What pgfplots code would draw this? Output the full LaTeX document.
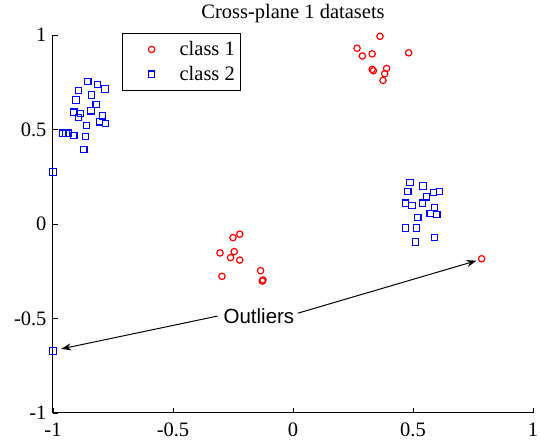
\documentclass[border=0pt]{standalone}
\usepackage{fontspec}
\setmainfont{Liberation Serif}
\newfontfamily\sansf{Liberation Sans}
\usepackage{pgfplots}
\pgfplotsset{compat=1.18}
\usetikzlibrary{arrows.meta}
\newcommand\fs{\fontsize{20.5bp}{24bp}\selectfont}
\begin{document}
\begin{tikzpicture}
\path[use as bounding box] (-53bp,-27bp) rectangle (487bp,413bp);
\begin{axis}[
  at={(0,0)}, anchor=south west,
  scale only axis, width=480bp, height=378bp,
  xmin=-1, xmax=1, ymin=-1, ymax=1,
  axis x line=bottom, axis y line=left,
  axis line style={-, line width=1bp, black},
  tick align=inside, major tick length=5bp,
  tick style={line width=0.8bp, black},
  xtick={-1,-0.5,0,0.5,1}, xticklabels={{-1},{-0.5},{0},{0.5},{1}},
  ytick={-1,-0.5,0,0.5,1}, yticklabels={{-1},{-0.5},{0},{0.5},{1}},
  ticklabel style={font=\fs},
  xticklabel style={yshift=-6bp},
  yticklabel style={xshift=-3bp},
  title={Cross-plane 1 datasets},
  title style={font=\fs, yshift=3bp},
  clip=false,
  legend style={font=\fs, at={(0.144,1.005)}, anchor=north west,
    draw=black, line width=1bp, inner xsep=4bp, inner ysep=6bp,
    row sep=5bp, nodes={inner sep=2bp}},
  legend cell align=left,
  legend image code/.code={\path[draw=none,fill=none] (0bp,-2bp) rectangle (51bp,2bp); \draw[#1] plot coordinates {(25bp,0bp)};},
]
\addplot[only marks, mark=o, color=red, mark options={draw=red, fill=none, line width=1.2bp}, mark size=3.2bp] coordinates {
(0.3625,0.993) (0.267,0.93) (0.289,0.889) (0.33,0.90) (0.482,0.906)
(0.33,0.818) (0.335,0.811) (0.39,0.823) (0.382,0.795) (0.375,0.76)
(-0.222,-0.054) (-0.25,-0.072) (-0.304,-0.153) (-0.245,-0.146) (-0.26,-0.178)
(-0.222,-0.191) (-0.296,-0.277) (-0.135,-0.247) (-0.125,-0.296) (-0.128,-0.302)
(0.786,-0.184)
};
\addlegendentry{class 1}
\addplot[only marks, mark=square, color=blue, mark options={draw=blue, fill=none, line width=1.2bp}, mark size=3.2bp] coordinates {
(-0.855,0.753) (-0.815,0.739) (-0.783,0.714) (-0.893,0.707) (-0.839,0.683)
(-0.904,0.656) (-0.82,0.633) (-0.913,0.592) (-0.885,0.585) (-0.842,0.599)
(-0.893,0.564) (-0.793,0.573) (-0.807,0.541) (-0.782,0.532) (-0.861,0.522)
(-0.958,0.48) (-0.946,0.48) (-0.935,0.48) (-0.913,0.469) (-0.865,0.464)
(-0.872,0.395)
(-1,0.275) (-1,-0.672)
(0.4875,0.219) (0.542,0.201) (0.478,0.171) (0.585,0.166) (0.611,0.171)
(0.557,0.144) (0.468,0.11) (0.496,0.097) (0.539,0.11) (0.589,0.088)
(0.572,0.056) (0.599,0.051) (0.52,0.034) (0.468,-0.021) (0.515,-0.021)
(0.51,-0.095) (0.589,-0.072)
};
\addlegendentry{class 2}
\node[font=\sansf\fs, inner sep=0pt] at (axis cs:-0.142,-0.49) {Outliers};
\draw[line width=1bp, -{Stealth[length=10bp,width=7bp]}] (axis cs:-0.314,-0.487) -- (axis cs:-0.966,-0.661);
\draw[line width=1bp, -{Stealth[length=10bp,width=7bp]}] (axis cs:0.02,-0.472) -- (axis cs:0.765,-0.194);
\end{axis}
\end{tikzpicture}
\end{document}
